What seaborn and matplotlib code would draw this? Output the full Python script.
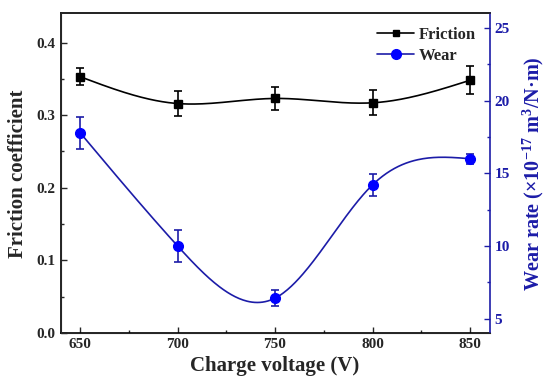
import numpy as np
import pandas as pd
import seaborn as sns
import matplotlib.pyplot as plt
from matplotlib.lines import Line2D
from matplotlib.ticker import MultipleLocator

# Data
voltage = [650, 700, 750, 800, 850]
friction = [0.353, 0.316, 0.323, 0.317, 0.348]
friction_err = [0.012, 0.017, 0.016, 0.017, 0.019]
wear = [17.8, 10.0, 6.4, 14.2, 16.0]
wear_err = [1.1, 1.1, 0.55, 0.75, 0.35]


def natural_spline(x, y, n=300):
    # plain natural cubic spline, used only to draw the smooth connecting line
    x = np.asarray(x, float)
    y = np.asarray(y, float)
    k = len(x)
    h = np.diff(x)
    A = np.zeros((k, k))
    b = np.zeros(k)
    A[0, 0] = A[-1, -1] = 1
    for i in range(1, k - 1):
        A[i, i - 1] = h[i - 1]
        A[i, i] = 2 * (h[i - 1] + h[i])
        A[i, i + 1] = h[i]
        b[i] = 6 * ((y[i + 1] - y[i]) / h[i] - (y[i] - y[i - 1]) / h[i - 1])
    m = np.linalg.solve(A, b)
    xs = np.linspace(x[0], x[-1], n)
    idx = np.clip(np.searchsorted(x, xs) - 1, 0, k - 2)
    t = xs - x[idx]
    hi = h[idx]
    a = y[idx]
    bb = (y[idx + 1] - y[idx]) / hi - hi * (2 * m[idx] + m[idx + 1]) / 6
    c = m[idx] / 2
    d = (m[idx + 1] - m[idx]) / (6 * hi)
    return xs, a + bb * t + c * t ** 2 + d * t ** 3


sns.set_style("ticks")
plt.rcParams['font.family'] = ['Liberation Serif', 'DejaVu Serif']
plt.rcParams['font.weight'] = 'bold'
plt.rcParams['axes.labelweight'] = 'bold'
plt.rcParams['mathtext.fontset'] = 'custom'
plt.rcParams['mathtext.rm'] = 'Liberation Serif:bold'
plt.rcParams['mathtext.it'] = 'Liberation Serif:bold'
plt.rcParams['mathtext.bf'] = 'Liberation Serif:bold'

blue_dark = '#1c1ca8'
blue = '#0000ff'

fig, ax = plt.subplots(figsize=(5.5, 3.85), dpi=100)
ax2 = ax.twinx()

fx, fy = natural_spline(voltage, friction)
sns.lineplot(x=fx, y=fy, ax=ax, color='black', lw=1.2)
ax.errorbar(voltage, friction, yerr=friction_err, fmt='s', color='black',
            ms=6, capsize=3, elinewidth=1.2, capthick=1.2)

wx, wy = natural_spline(voltage, wear)
sns.lineplot(x=wx, y=wy, ax=ax2, color=blue_dark, lw=1.2)
ax2.errorbar(voltage, wear, yerr=wear_err, fmt='o', color=blue,
             ecolor=blue_dark, ms=7, capsize=3, elinewidth=1.2, capthick=1.2)

ax.set_xlim(640, 860)
ax.set_ylim(0, 0.44)
ax2.set_ylim(4, 26)
ax.set_xticks([650, 700, 750, 800, 850])
ax.xaxis.set_minor_locator(MultipleLocator(25))
ax.set_yticks([0.0, 0.1, 0.2, 0.3, 0.4])
ax.yaxis.set_minor_locator(MultipleLocator(0.05))
ax2.set_yticks([5, 10, 15, 20, 25])
ax2.yaxis.set_minor_locator(MultipleLocator(2.5))

ax.set_xlabel('Charge voltage (V)', fontsize=15, fontweight='bold', labelpad=4)
ax.set_ylabel('Friction coefficient', fontsize=15, fontweight='bold', labelpad=6)
ax2.set_ylabel('Wear rate (×10$^{-17}$ m$^{3}$/N·m)',
               fontsize=14.5, fontweight='bold', color=blue_dark, labelpad=8)

ax.tick_params(which='both', direction='in', top=False, right=False,
               labelsize=11, width=1)
ax.tick_params(which='major', length=4)
ax.tick_params(which='minor', length=2.5)
ax2.tick_params(which='both', direction='in', colors=blue_dark, labelsize=11, width=1)
ax2.tick_params(which='major', length=4)
ax2.tick_params(which='minor', length=2.5)
for lab in ax.get_xticklabels() + ax.get_yticklabels() + ax2.get_yticklabels():
    lab.set_fontweight('bold')

for sp in ['left', 'bottom', 'top']:
    ax.spines[sp].set_visible(True)
    ax.spines[sp].set_linewidth(1.2)
    ax.spines[sp].set_color('black')
ax2.spines['right'].set_visible(True)
ax2.spines['right'].set_color(blue_dark)
ax2.spines['right'].set_linewidth(1.2)
ax2.spines['top'].set_visible(True)
ax2.spines['top'].set_linewidth(1.2)
ax.spines['right'].set_visible(False)

handles = [
    Line2D([], [], color='black', marker='s', ms=5, lw=1.2),
    Line2D([], [], color=blue_dark, marker='o', mfc=blue, mec=blue, ms=7, lw=1.2),
]
ax2.legend(handles, ['Friction', 'Wear'], loc='upper right', frameon=False,
           prop={'weight': 'bold', 'size': 12}, handlelength=2.2,
           handletextpad=0.3, borderaxespad=0.4, labelspacing=0.3)

plt.subplots_adjust(left=0.11, right=0.89, top=0.965, bottom=0.135)
fig.savefig('out.png', dpi=100)
